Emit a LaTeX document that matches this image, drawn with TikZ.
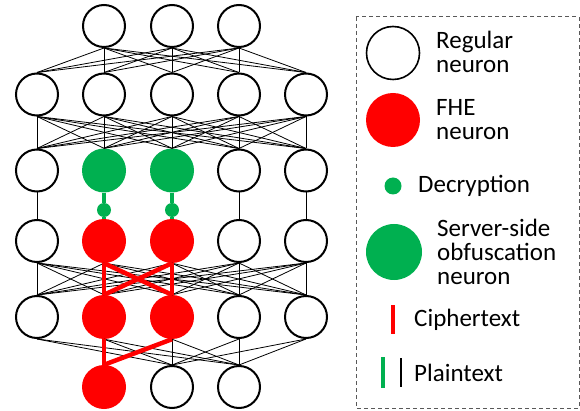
\documentclass[tikz,border=0pt]{standalone}
\usepackage{fontspec}
\setmainfont{Carlito}
\usetikzlibrary{positioning}
\definecolor{obfgreen}{RGB}{0,176,80}

\begin{document}
\begin{tikzpicture}[
  x=1pt, y=-1pt,
  font=\fontsize{25}{24}\selectfont,
  neuron/.style={circle, draw, line width=2pt, minimum size=42pt, inner sep=0pt},
  fhe/.style={circle, fill=red, minimum size=44pt, inner sep=0pt},
  obf/.style={circle, fill=obfgreen, minimum size=44pt, inner sep=0pt},
  dec/.style={circle, fill=obfgreen, minimum size=14pt, inner sep=0pt},
  link/.style={line width=0.8pt},
  cipher/.style={red, line width=4.5pt},
  plain/.style={obfgreen, line width=4pt},
  legtext/.style={align=left, anchor=west, inner sep=0pt}
]
\useasboundingbox (0,0) rectangle (580,411);
% network layers
\node[neuron] (A1) at (104,26) {};
\node[neuron] (A2) at (172,26) {};
\node[neuron] (A3) at (239,26) {};
\foreach \i/\x in {1/37,2/104,3/172,4/239,5/306}
  \node[neuron] (B\i) at (\x,94.5) {};
\node[neuron] (C1) at (37,170.5) {};
\node[obf] (C2) at (104,170.5) {};
\node[obf] (C3) at (172,170.5) {};
\node[neuron] (C4) at (239,170.5) {};
\node[neuron] (C5) at (306,170.5) {};
\node[dec] (K2) at (104,210) {};
\node[dec] (K3) at (172,210) {};
\node[neuron] (D1) at (37,241) {};
\node[fhe] (D2) at (104,241) {};
\node[fhe] (D3) at (172,241) {};
\node[neuron] (D4) at (239,241) {};
\node[neuron] (D5) at (306,241) {};
\node[neuron] (E1) at (37,317) {};
\node[fhe] (E2) at (104,317) {};
\node[fhe] (E3) at (172,317) {};
\node[neuron] (E4) at (239,317) {};
\node[neuron] (E5) at (306,317) {};
\node[fhe] (F1) at (104,387) {};
\node[neuron] (F2) at (172,387) {};
\node[neuron] (F3) at (239,387) {};
% plain links
\foreach \a in {1,2,3} \foreach \b in {1,...,5}
  \draw[link] (A\a.south) -- (B\b.north);
\foreach \a in {1,...,5} \foreach \b in {1,...,5}
  \draw[link] (B\a.south) -- (C\b.north);
\foreach \a in {1,4,5}
  \draw[link] (C\a.south) -- (D\a.north);
\foreach \a in {1,...,5} \foreach \b in {1,...,5}
  \draw[link] (D\a.south) -- (E\b.north);
\foreach \a in {1,...,5} \foreach \b in {2,3}
  \draw[link] (E\a.south) -- (F\b.north);
% decryption
\foreach \a in {2,3} {
  \draw[plain] (C\a.south) -- (K\a.north);
  \draw[plain] (K\a.south) -- (D\a.north);
}
% ciphertext paths
\foreach \a in {2,3} \foreach \b in {2,3}
  \draw[cipher] (D\a.south) -- (E\b.north);
\draw[cipher] (E2.south) -- (F1.north);
\draw[cipher] (E3.south) -- (F1.north);
% legend
\draw[black!65, line width=1pt, dash pattern=on 4pt off 3pt] (356,17) rectangle (579,408);
\node[neuron, line width=1.6pt, minimum size=53pt] (LR) at (393,53) {};
\node[legtext] (TR) at (436,52) {Regular\\neuron};
\node[fhe, minimum size=54pt] (LF) at (393,120) {};
\node[legtext] (TF) at (436,120) {FHE\\neuron};
\node[dec, minimum size=17pt] (LD) at (393,186) {};
\node[legtext] (TD) at (418,186) {Decryption};
\node[obf, minimum size=56pt] (LS) at (394,252) {};
\node[legtext] (TS) at (437,252) {Server-side\\obfuscation\\neuron};
\draw[red, line width=4pt] (393,305) -- (393,334);
\node[legtext] (TC) at (414,320) {Ciphertext};
\draw[plain] (383,357) -- (383,388);
\draw[line width=1.5pt] (401,358) -- (401,387);
\node[legtext] (TP) at (414,373) {Plaintext};
\end{tikzpicture}
\end{document}
